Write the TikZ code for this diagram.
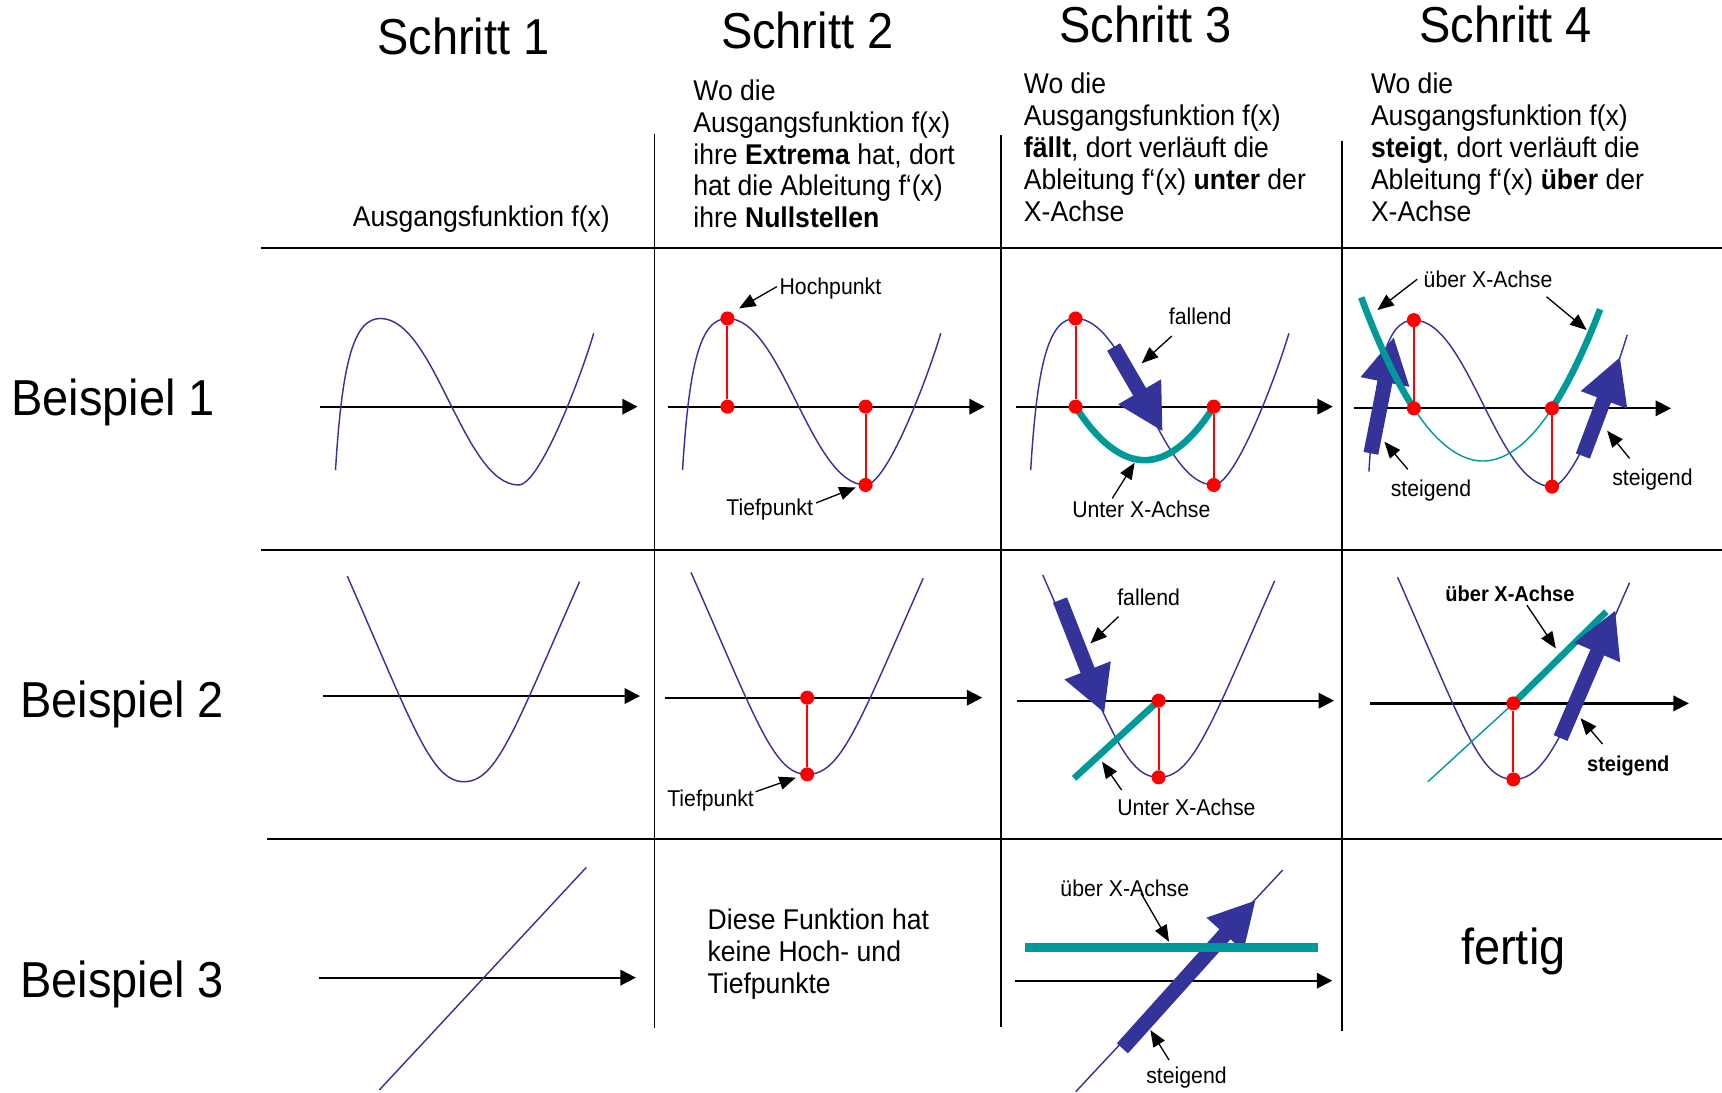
\documentclass[tikz,border=0pt]{standalone}
\usepackage{fontspec}
\setmainfont{Liberation Sans}[FakeStretch=0.93]
\usetikzlibrary{arrows.meta}
\definecolor{fblue}{RGB}{51,51,153}
\definecolor{mteal}{RGB}{0,153,153}
\definecolor{mred}{RGB}{255,0,0}
\newcommand{\cubicpath}{(305.5,428) .. controls (311.5,330) and (322,290) .. (346.4,290) .. controls (396,290) and (422,441.6) .. (472.2,441.6) .. controls (492,441.6) and (530,340) .. (540.6,303.5)}
\begin{document}
\begin{tikzpicture}[x=0.5pt,y=-0.5pt,
  gridline/.style={line width=1pt},
  vline/.style={line width=0.8pt},
  axis/.style={line width=1pt,-{Triangle[length=7pt,width=7pt]}},
  fcurve/.style={draw=fblue,line width=0.65pt},
  rline/.style={draw=mred,line width=0.9pt},
  rdot/.style={circle,fill=mred,inner sep=0pt,minimum size=6.4pt},
  tthick/.style={draw=mteal,line width=3pt},
  tthin/.style={draw=mteal,line width=0.65pt},
  fat/.style={draw=fblue,line width=6.8pt,-{Triangle[length=21pt,width=21pt]}},
  lbl/.style={font=\fontsize{10.4}{12}\selectfont,inner sep=0pt,anchor=base west},
  blbl/.style={font=\fontsize{9.8}{12}\selectfont\bfseries,inner sep=0pt,anchor=base west},
  larr/.style={line width=0.6pt,-{Triangle[length=7.5pt,width=6pt]}},
  body/.style={font=\fontsize{13}{15}\selectfont,inner sep=0pt,anchor=base west},
  big/.style={font=\fontsize{23}{27}\selectfont,inner sep=0pt,anchor=base},
  bigw/.style={big,anchor=base west}]
\fill[white] (0,0) rectangle (1568,995);
\useasboundingbox (0,0) rectangle (1568,995);

% ---------- grid ----------
\draw[gridline] (238,226) -- (1568,226);
\draw[gridline] (238,500.5) -- (1568,500.5);
\draw[gridline] (243,764) -- (1568,764);
\draw[vline] (596,122) -- (596,936);
\draw[vline] (911.5,123) -- (911.5,935);
\draw[vline] (1222,128) -- (1222,939);

% ---------- headers ----------
\node[big] (s1) at (422,49.5) {Schritt 1};
\node[big] (s2) at (735,44.5) {Schritt 2};
\node[big] (s3) at (1043,38.5) {Schritt 3};
\node[big] (s4) at (1371,38.5) {Schritt 4};

\node[body] (t1) at (321,206) {Ausgangsfunktion f(x)};

\node[body] (t2a) at (631,91.4) {Wo die};
\node[body] (t2b) at (631,120.4) {Ausgangsfunktion f(x)};
\node[body] (t2c) at (631,149.4) {ihre \textbf{Extrema} hat, dort};
\node[body] (t2d) at (631,178.4) {hat die Ableitung f‘(x)};
\node[body] (t2e) at (631,207.4) {ihre \textbf{Nullstellen}};

\node[body] (t3a) at (932,85.4) {Wo die};
\node[body] (t3b) at (932,114.4) {Ausgangsfunktion f(x)};
\node[body] (t3c) at (932,143.4) {\textbf{fällt}, dort verläuft die};
\node[body] (t3d) at (932,172.4) {Ableitung f‘(x) \textbf{unter} der};
\node[body] (t3e) at (932,201.4) {X-Achse};

\node[body] (t4a) at (1248,85.4) {Wo die};
\node[body] (t4b) at (1248,114.4) {Ausgangsfunktion f(x)};
\node[body] (t4c) at (1248,143.4) {\textbf{steigt}, dort verläuft die};
\node[body] (t4d) at (1248,172.4) {Ableitung f‘(x) \textbf{über} der};
\node[body] (t4e) at (1248,201.4) {X-Achse};

\node[bigw] (b1) at (10,378.5) {Beispiel 1};
\node[bigw] (b2) at (18,653.5) {Beispiel 2};
\node[bigw] (b3) at (18,908.5) {Beispiel 3};

% ---------- row 1 ----------
% col 1
\coordinate (a11s) at (291.8,370.3); \coordinate (a11e) at (580.6,370.3);
\draw[axis] (a11s) -- (a11e);
\draw[fcurve] \cubicpath;

% col 2
\begin{scope}[shift={(316,0)}]
\coordinate (a12s) at (291.8,370.3); \coordinate (a12e) at (580.6,370.3);
\draw[axis] (a12s) -- (a12e);
\draw[fcurve] \cubicpath;
\node[rdot] (hp2) at (346.4,290) {};
\node[rdot] (hp2a) at (346.4,370.3) {};
\node[rdot] (tp2) at (472.2,441.6) {};
\node[rdot] (tp2a) at (472.2,370.3) {};
\draw[rline] (hp2) -- (hp2a);
\draw[rline] (tp2) -- (tp2a);
\end{scope}
\node[lbl] (hochl) at (709.5,268.5) {Hochpunkt};
\node[lbl] (tief1l) at (661,469) {Tiefpunkt};
\coordinate (hochs) at (707.4,261); \coordinate (hocht) at (673,280.8);
\coordinate (tief1s) at (743,458); \coordinate (tief1t) at (779.2,443.8);
\draw[larr] (hochs) -- (hocht);
\draw[larr] (tief1s) -- (tief1t);

% col 3
\begin{scope}[shift={(633,0)}]
\coordinate (a13s) at (291.8,370.3); \coordinate (a13e) at (580.6,370.3);
\draw[axis] (a13s) -- (a13e);
\draw[fcurve] \cubicpath;
\draw[tthick] (346.4,370.3) parabola bend (409.3,419) (472.2,370.3);
\node[rdot] (hp3) at (346.4,290) {};
\node[rdot] (hp3a) at (346.4,370.3) {};
\node[rdot] (tp3) at (472.2,441.6) {};
\node[rdot] (tp3a) at (472.2,370.3) {};
\draw[rline] (hp3) -- (hp3a);
\draw[rline] (tp3) -- (tp3a);
\end{scope}
\coordinate (f3s) at (1014,316); \coordinate (f3t) at (1058.8,393.1);
\draw[fat] (f3s) -- (f3t);
\node[lbl] (fall1l) at (1064,295.5) {fallend};
\node[lbl] (unt1l) at (976,471.5) {Unter X-Achse};
\coordinate (fall1s) at (1067,306); \coordinate (fall1t) at (1039.6,330.8);
\coordinate (unt1s) at (1012.8,453.8); \coordinate (unt1t) at (1033.2,421.3);
\draw[larr] (fall1s) -- (fall1t);
\draw[larr] (unt1s) -- (unt1t);

% col 4
\begin{scope}[shift={(941,1.5)}]
\coordinate (a14s) at (291.8,370.3); \coordinate (a14e) at (580.6,370.3);
\draw[axis] (a14s) -- (a14e);
\draw[fcurve] \cubicpath;
\draw[tthin] (346.4,370.3) parabola bend (409.3,418.3) (472.2,370.3);
\draw[rline] (346.4,290) -- (346.4,370.3);
\draw[rline] (472.2,441.6) -- (472.2,370.3);
\end{scope}
\coordinate (g4as) at (1248.3,412.8); \coordinate (g4at) at (1269.2,306.6);
\coordinate (g4bs) at (1441.3,415.2); \coordinate (g4bt) at (1475.3,324.8);
\draw[fat] (g4as) -- (g4at);
\draw[fat] (g4bs) -- (g4bt);
\begin{scope}[shift={(941,1.5)}]
\draw[tthick] plot[domain=298.5:346.4,samples=30] (\x,{370.3+48*(1-((\x-409.3)/62.9)^2)});
\draw[tthick] plot[domain=472.2:516,samples=30] (\x,{370.3+48*(1-((\x-409.3)/62.9)^2)});
\node[rdot] (hp4) at (346.4,290) {};
\node[rdot] (hp4a) at (346.4,370.3) {};
\node[rdot] (tp4) at (472.2,441.6) {};
\node[rdot] (tp4a) at (472.2,370.3) {};
\end{scope}
\node[lbl] (ueb1l) at (1296,262) {über X-Achse};
\node[lbl] (st1l) at (1266,452) {steigend};
\node[lbl] (st1r) at (1467.7,442) {steigend};
\coordinate (ueb1as) at (1290.4,254.3); \coordinate (ueb1at) at (1254.2,282.3);
\coordinate (ueb1bs) at (1408.2,270.2); \coordinate (ueb1bt) at (1444.7,300.5);
\coordinate (st1ls) at (1281.9,427.4); \coordinate (st1lt) at (1260.6,402.2);
\coordinate (st1rs) at (1483.8,417.4); \coordinate (st1rt) at (1463.4,392.2);
\draw[larr] (ueb1as) -- (ueb1at);
\draw[larr] (ueb1bs) -- (ueb1bt);
\draw[larr] (st1ls) -- (st1lt);
\draw[larr] (st1rs) -- (st1rt);

% ---------- row 2 ----------
% col 1
\coordinate (a21s) at (293.9,633.8); \coordinate (a21e) at (582.8,633.8);
\draw[axis] (a21s) -- (a21e);
\draw[fcurve] (316.2,524.5) .. controls (376,660.5) and (392.4,711.8) .. (422.4,711.8) .. controls (452.4,711.8) and (467.7,665.7) .. (527.7,529.7);

% col 2
\coordinate (a22s) at (605.5,635.3); \coordinate (a22e) at (894.4,635.3);
\draw[axis] (a22s) -- (a22e);
\draw[fcurve] (629.2,521.2) .. controls (689.2,657.2) and (704.5,705.1) .. (735,705.1) .. controls (765.5,705.1) and (780.6,662.6) .. (840.6,526.6);
\node[rdot] (v2a) at (735,635.3) {};
\node[rdot] (v2) at (735,705.1) {};
\draw[rline] (v2a) -- (v2);
\node[lbl] (tief2l) at (607.2,734.5) {Tiefpunkt};
\coordinate (tief2s) at (688,720.9); \coordinate (tief2t) at (724.6,708.1);
\draw[larr] (tief2s) -- (tief2t);

% col 3
\coordinate (a23s) at (925.7,638); \coordinate (a23e) at (1214.7,638);
\draw[axis] (a23s) -- (a23e);
\draw[fcurve] (949.5,523.6) .. controls (1009.5,659.6) and (1024.5,707.8) .. (1055,707.8) .. controls (1085.5,707.8) and (1100.7,664.8) .. (1160.7,528.8);
\coordinate (tl3s) at (978,708.7); \coordinate (tl3e) at (1055,638);
\draw[tthick] (tl3s) -- (tl3e);
\node[rdot] (v3a) at (1055,638) {};
\node[rdot] (v3) at (1055,707.8) {};
\draw[rline] (v3a) -- (v3);
\coordinate (f23s) at (965.2,546.4); \coordinate (f23t) at (1005.7,649.5);
\draw[fat] (f23s) -- (f23t);
\node[lbl] (fall2l) at (1017,551.4) {fallend};
\node[lbl] (unt2l) at (1017,743) {Unter X-Achse};
\coordinate (fall2s) at (1018.4,561.5); \coordinate (fall2t) at (992.9,585.8);
\coordinate (unt2s) at (1021.3,719.4); \coordinate (unt2t) at (1003.5,693.6);
\draw[larr] (fall2s) -- (fall2t);
\draw[larr] (unt2s) -- (unt2t);

% col 4
\coordinate (a24s) at (1247.9,640.5); \coordinate (a24e) at (1537.8,640.5);
\draw[axis] (a24s) -- (a24e);
\draw[fcurve] (1272.6,525.7) .. controls (1332.6,661.7) and (1347.5,709.7) .. (1378,709.7) .. controls (1408.5,709.7) and (1423.8,666.6) .. (1483.8,530.6);
\coordinate (tl4s) at (1300.2,711.8); \coordinate (tl4m) at (1378,640.5); \coordinate (tl4e) at (1462.6,557);
\draw[tthin] (tl4s) -- (tl4m);
\draw[tthick] (tl4m) -- (tl4e);
\node[rdot] (v4a) at (1378,640.5) {};
\node[rdot] (v4) at (1378,709.7) {};
\draw[rline] (v4a) -- (v4);
\coordinate (f24s) at (1421,672); \coordinate (f24t) at (1471,555.5);
\draw[fat] (f24s) -- (f24t);
\node[blbl] (ueb2l) at (1315.8,547.8) {über X-Achse};
\node[blbl] (st2l) at (1444.8,702.5) {steigend};
\coordinate (ueb2s) at (1390.3,550.9); \coordinate (ueb2t) at (1416.7,590.4);
\coordinate (st2s) at (1459.2,677.5); \coordinate (st2t) at (1439.2,654);
\draw[larr] (ueb2s) -- (ueb2t);
\draw[larr] (st2s) -- (st2t);

% ---------- row 3 ----------
\coordinate (a31s) at (290.2,890.2); \coordinate (a31e) at (579,890.2);
\draw[axis] (a31s) -- (a31e);
\coordinate (l31s) at (345.4,992.5); \coordinate (l31e) at (533.9,789.8);
\draw[fcurve] (l31s) -- (l31e);

\node[body] (d1) at (644,846.4) {Diese Funktion hat};
\node[body] (d2) at (644,875.4) {keine Hoch- und};
\node[body] (d3) at (644,904.4) {Tiefpunkte};

\coordinate (a33s) at (924.4,893); \coordinate (a33e) at (1213.1,893);
\draw[axis] (a33s) -- (a33e);
\coordinate (l33s) at (979.6,994); \coordinate (l33e) at (1168,792.2);
\draw[fcurve] (l33s) -- (l33e);
\coordinate (f33s) at (1022,954.6); \coordinate (f33t) at (1143.5,819.5);
\draw[fat] (f33s) -- (f33t);
\coordinate (tl33s) at (933,862.6); \coordinate (tl33e) at (1200.4,862.6);
\draw[draw=mteal,line width=3.8pt] (tl33s) -- (tl33e);
\node[lbl] (ueb3l) at (965.2,816.4) {über X-Achse};
\node[lbl] (st3l) at (1043.4,986.5) {steigend};
\coordinate (ueb3s) at (1039,813.4); \coordinate (ueb3t) at (1064.5,857.5);
\coordinate (st3s) at (1064.5,965.2); \coordinate (st3t) at (1047.5,938);
\draw[larr] (ueb3s) -- (ueb3t);
\draw[larr] (st3s) -- (st3t);

\node[big] (fertig) at (1378,878.5) {fertig};
\end{tikzpicture}
\end{document}
